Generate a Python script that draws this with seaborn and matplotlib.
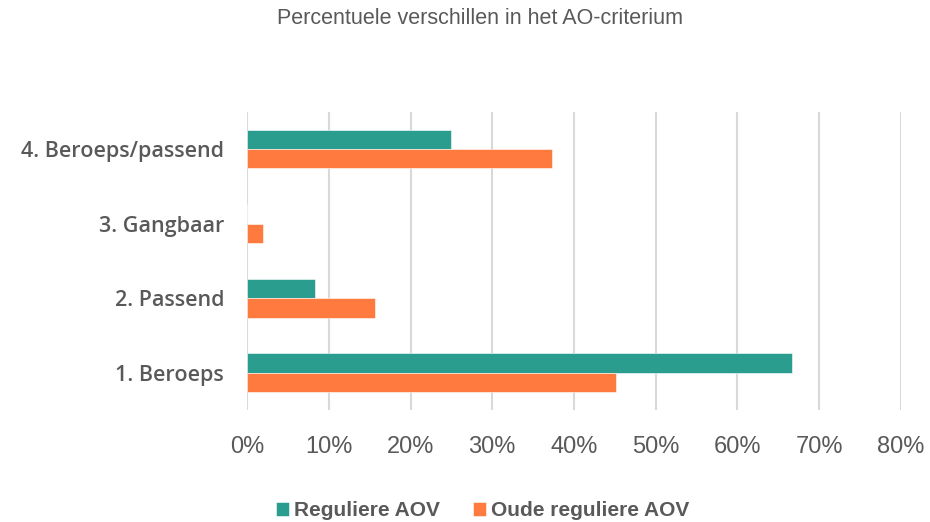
import pandas as pd
import matplotlib.pyplot as plt
import seaborn as sns
from matplotlib.ticker import PercentFormatter

# data
categorieen = ["1. Beroeps", "2. Passend", "3. Gangbaar", "4. Beroeps/passend"]
reguliere_aov = [66.7, 8.3, 0.0, 25.0]
oude_reguliere_aov = [45.1, 15.7, 2.0, 37.3]
series = ["Reguliere AOV", "Oude reguliere AOV"]
kleuren = ["#2A9D8F", "#FE7A3E"]

df = pd.DataFrame({
    "criterium": categorieen * 2,
    "pct": reguliere_aov + oude_reguliere_aov,
    "reeks": [series[0]] * 4 + [series[1]] * 4,
})

sns.set_style("white")
plt.rcParams["font.family"] = ["Liberation Sans", "DejaVu Sans"]
tekst = "#595959"

fig = plt.figure(figsize=(9.3, 5.22), dpi=100)
ax = fig.add_axes([0.2656, 0.2146, 0.7032, 0.5714])

sns.barplot(data=df, y="criterium", x="pct", hue="reeks",
            order=categorieen[::-1], hue_order=series, palette=kleuren,
            saturation=1, orient="h", width=0.52, gap=0, ax=ax, legend=True,
            edgecolor="white", linewidth=0.4)

ax.set_xlim(0, 80)
ax.set_xticks(range(0, 81, 10))
ax.xaxis.set_major_formatter(PercentFormatter(decimals=0))
ax.grid(axis="x", color="#D9D9D9", linewidth=1.5)
ax.set_axisbelow(True)
for s in ax.spines.values():
    s.set_visible(False)
ax.set_xlabel("")
ax.set_ylabel("")
ax.tick_params(axis="x", length=0, pad=19, labelsize=17, labelcolor=tekst)
ax.tick_params(axis="y", length=0, pad=16.5, labelcolor=tekst)
for lbl in ax.get_yticklabels():
    lbl.set_fontfamily(["Open Sans", "Liberation Sans", "DejaVu Sans"])
    lbl.set_fontweight("semibold")
    lbl.set_fontsize(15.5)

fig.text(0.516, 0.965, "Percentuele verschillen in het AO-criterium",
         ha="center", va="center", fontsize=15.5, color=tekst)

ax.legend_.remove()
fig.legend(*ax.get_legend_handles_labels(), loc="center", bbox_to_anchor=(0.519, 0.022),
           ncol=2, frameon=False, prop={"size": 15, "weight": "bold"}, labelcolor=tekst,
           handlelength=0.63, handleheight=0.63, handletextpad=0.25, columnspacing=1.6)

fig.savefig("out.png", dpi=100)
